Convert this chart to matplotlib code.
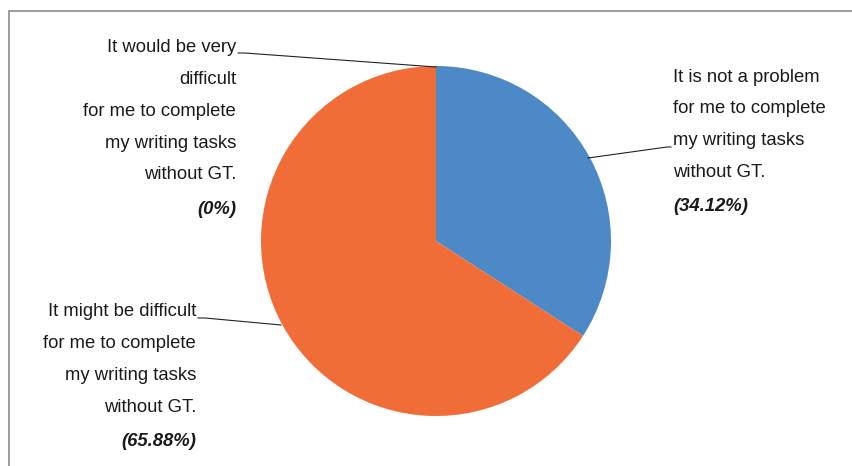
import matplotlib
matplotlib.use("Agg")
import matplotlib.pyplot as plt
from matplotlib.patches import Rectangle

# data
labels = ["It is not a problem\nfor me to complete\nmy writing tasks\nwithout GT.",
          "It might be difficult\nfor me to complete\nmy writing tasks\nwithout GT.",
          "It would be very\ndifficult\nfor me to complete\nmy writing tasks\nwithout GT."]
values = [34.12, 65.88, 0.0]
pct_labels = ["(34.12%)", "(65.88%)", "(0%)"]
colors = ["#4D89C6", "#F06D37", "#A5A5A5"]

W, H = 852, 466
fig = plt.figure(figsize=(W / 100, H / 100), dpi=100)
ax = fig.add_axes([0, 0, 1, 1])

def Y(py):
    return H - py

ax.pie(values, colors=colors, startangle=90, counterclock=False,
       center=(436, Y(241)), radius=175, frame=True,
       wedgeprops=dict(linewidth=0))
ax.set_xlim(0, W)
ax.set_ylim(0, H)
ax.set_aspect("equal")
ax.axis("off")

# border
fig.add_artist(Rectangle((9 / W, -0.1), 1.2, (H - 11) / H + 0.1,
                         transform=fig.transFigure, fill=False,
                         edgecolor="#8C8C8C", linewidth=1.2))

font = dict(family=["Liberation Sans", "DejaVu Sans"], size=13.3, color="#1a1a1a")
step = 31.7

def block(x, y0, text, pct, ha):
    lines = text.split("\n")
    for i, ln in enumerate(lines):
        ax.text(x, Y(y0 + i * step), ln, ha=ha, va="center", **font)
    ax.text(x, Y(y0 + len(lines) * step + 3), pct, ha=ha, va="center",
            fontweight="bold", fontstyle="italic", **font)

# right label (blue)
block(673, 77, labels[0], pct_labels[0], "left")
ax.plot([588, 667, 671], [Y(158), Y(147), Y(147)], color="#222222", lw=0.8)

# bottom-left label (orange)
block(196, 312, labels[1], pct_labels[1], "right")
ax.plot([198, 205, 281], [Y(318), Y(318), Y(325)], color="#222222", lw=0.8)

# top-left label (0%)
block(236, 48, labels[2], pct_labels[2], "right")
ax.plot([238, 245, 436], [Y(53), Y(53), Y(67)], color="#222222", lw=0.8)

fig.savefig("out.png", dpi=100, facecolor="white")
